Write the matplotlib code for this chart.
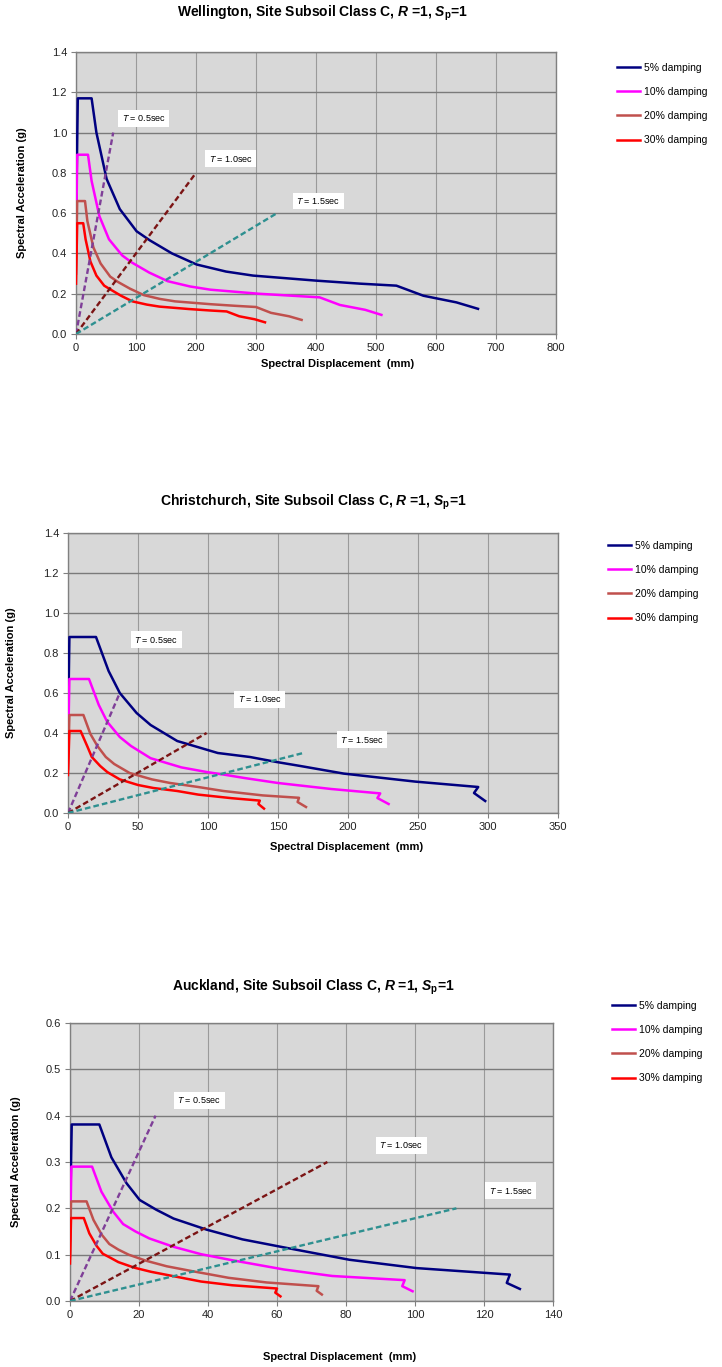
import numpy as np
import matplotlib.pyplot as plt
from matplotlib.lines import Line2D

plt.rcParams['font.family'] = ['Liberation Sans', 'DejaVu Sans']
plt.rcParams['mathtext.fontset'] = 'custom'
plt.rcParams['mathtext.rm'] = 'Liberation Sans'
plt.rcParams['mathtext.it'] = 'Liberation Sans:italic'
plt.rcParams['mathtext.bf'] = 'Liberation Sans:bold:italic'
plt.rcParams['mathtext.sf'] = 'Liberation Sans:bold'

damping = ['5% damping', '10% damping', '20% damping', '30% damping']
periods = ['0.5', '1.0', '1.5']

# Wellington
wel_sd_5 = [0, 3, 26, 34, 51, 73, 101, 123, 160, 201, 250, 295, 400, 473, 534, 579, 634, 670]
wel_sa_5 = [0.53, 1.17, 1.17, 1.00, 0.77, 0.62, 0.51, 0.465, 0.40, 0.345, 0.31, 0.29, 0.265, 0.25, 0.24, 0.19, 0.157, 0.125]
wel_sd_10 = [0, 2, 20, 26, 39, 55, 77, 93, 122, 153, 190, 224, 304, 360, 406, 440, 482, 509]
wel_sa_10 = [0.40, 0.89, 0.89, 0.76, 0.585, 0.47, 0.39, 0.355, 0.305, 0.262, 0.236, 0.22, 0.20, 0.19, 0.182, 0.144, 0.12, 0.095]
wel_sd_20 = [0, 2, 15, 19, 29, 41, 57, 69, 90, 113, 140, 165, 224, 265, 300, 325, 355, 376]
wel_sa_20 = [0.30, 0.66, 0.66, 0.56, 0.43, 0.35, 0.285, 0.26, 0.225, 0.193, 0.174, 0.162, 0.148, 0.14, 0.134, 0.105, 0.088, 0.07]
wel_sd_30 = [0, 2, 12, 16, 24, 34, 47, 58, 75, 94, 118, 139, 188, 222, 251, 272, 298, 315]
wel_sa_30 = [0.25, 0.55, 0.55, 0.47, 0.36, 0.29, 0.24, 0.22, 0.19, 0.162, 0.146, 0.136, 0.124, 0.117, 0.112, 0.088, 0.073, 0.058]
wel_period_sd = [62, 200, 335]
wel_period_sa = [1.0, 0.8, 0.6]
wel_tag_sd = [113, 258, 404]
wel_tag_sa = [1.07, 0.87, 0.66]

# Christchurch
chc_sd_5 = [0, 1, 20, 29, 37, 49, 59, 78, 107, 130, 149, 166, 197, 248, 293, 290, 298]
chc_sa_5 = [0.40, 0.88, 0.88, 0.71, 0.60, 0.50, 0.44, 0.36, 0.30, 0.28, 0.255, 0.235, 0.197, 0.157, 0.13, 0.10, 0.06]
chc_sd_10 = [0, 1, 15, 22, 28, 37, 45, 59, 81, 99, 113, 126, 150, 188, 223, 221, 229]
chc_sa_10 = [0.30, 0.67, 0.67, 0.54, 0.456, 0.38, 0.335, 0.274, 0.228, 0.205, 0.19, 0.175, 0.15, 0.12, 0.098, 0.075, 0.045]
chc_sd_20 = [0, 1, 11, 16, 21, 27, 33, 44, 60, 73, 83, 93, 111, 139, 165, 164, 170]
chc_sa_20 = [0.22, 0.49, 0.49, 0.395, 0.335, 0.28, 0.245, 0.20, 0.168, 0.15, 0.14, 0.13, 0.11, 0.088, 0.076, 0.055, 0.03]
chc_sd_30 = [0, 1, 9, 14, 17, 23, 28, 37, 50, 61, 70, 78, 93, 117, 137, 136, 140]
chc_sa_30 = [0.19, 0.41, 0.41, 0.33, 0.28, 0.235, 0.205, 0.168, 0.14, 0.125, 0.117, 0.11, 0.092, 0.074, 0.062, 0.045, 0.022]
chc_period_sd = [37, 99, 168]
chc_period_sa = [0.6, 0.4, 0.3]
chc_tag_sd = [63, 137, 210]
chc_tag_sa = [0.866, 0.568, 0.367]

# Auckland
akl_sd_5 = [0, 0.5, 8.5, 12, 16.4, 20.2, 25, 30, 39.6, 50, 61.8, 81, 100.5, 127.5, 126.6, 130.4]
akl_sa_5 = [0.173, 0.381, 0.381, 0.31, 0.254, 0.218, 0.197, 0.178, 0.154, 0.133, 0.116, 0.089, 0.071, 0.057, 0.039, 0.026]
akl_sd_10 = [0, 0.4, 6.4, 9.1, 12.5, 15.4, 19, 23, 30, 38, 47, 62, 76, 97, 96.3, 99.3]
akl_sa_10 = [0.13, 0.29, 0.29, 0.236, 0.193, 0.166, 0.15, 0.135, 0.117, 0.101, 0.088, 0.068, 0.054, 0.045, 0.032, 0.021]
akl_sd_20 = [0, 0.3, 4.8, 6.8, 9.2, 11.4, 14, 17, 22, 28, 35, 46, 57, 72, 71.5, 73]
akl_sa_20 = [0.097, 0.215, 0.215, 0.175, 0.143, 0.123, 0.111, 0.10, 0.087, 0.075, 0.065, 0.05, 0.04, 0.032, 0.022, 0.014]
akl_sd_30 = [0, 0.3, 4, 5.6, 7.7, 9.5, 11.8, 14, 18.6, 23.5, 29, 38, 47, 60, 59.5, 61]
akl_sa_30 = [0.081, 0.179, 0.179, 0.146, 0.119, 0.102, 0.093, 0.084, 0.072, 0.063, 0.055, 0.042, 0.034, 0.027, 0.018, 0.01]
akl_period_sd = [24.8, 74.6, 112]
akl_period_sa = [0.4, 0.3, 0.2]
akl_tag_sd = [37.5, 96, 127.8]
akl_tag_sa = [0.433, 0.336, 0.238]

curve_colors = ['#000080', '#FF00FF', '#C0504D', '#FF0000']
period_colors = ['#7F3F98', '#7B1414', '#2E9090']

W, H = 722, 1367
fig = plt.figure(figsize=(W / 100, H / 100), dpi=100)


def px_axes(left, top, right, bottom):
    return fig.add_axes([left / W, 1 - bottom / H, (right - left) / W, (bottom - top) / H])


def panel(ax, curves, psd, psa, tsd, tsa, xmax, xstep, ymax, ystep):
    ax.set_facecolor('#D8D8D8')
    for (sd, sa), c in zip(curves, curve_colors):
        ax.plot(sd, sa, color=c, lw=1.8, zorder=3)
    for sd, sa, c in zip(psd, psa, period_colors):
        ax.plot([0, sd], [0, sa], color=c, lw=1.7, ls=(0, (2.4, 1.3)), zorder=4)
    for sd, sa, p in zip(tsd, tsa, periods):
        ax.text(sd, sa, '$T$ = ' + p + 'sec', fontsize=6.5, ha='center', va='center', zorder=5,
                bbox=dict(facecolor='white', edgecolor='none', pad=2.5))
    ax.set_xlim(0, xmax)
    ax.set_ylim(0, ymax)
    ax.set_xticks(np.arange(0, xmax + xstep / 2, xstep))
    ax.set_yticks(np.arange(0, ymax + ystep / 2, ystep))
    ax.yaxis.set_major_formatter(plt.FormatStrFormatter('%.1f'))
    ax.grid(axis='y', color='#7A7A7A', lw=1.0)
    ax.grid(axis='x', color='#9A9A9A', lw=0.8)
    ax.set_axisbelow(True)
    for s in ax.spines.values():
        s.set_color('#808080')
        s.set_linewidth(1.0)
    ax.tick_params(labelsize=8, length=3.5, color='#808080', labelcolor='#222222', pad=3)


def legend(ax, x, y):
    handles = [Line2D([], [], color=c, lw=1.8) for c in curve_colors]
    ax.legend(handles, damping, loc='upper left', bbox_to_anchor=(x / W, 1 - y / H),
              bbox_transform=fig.transFigure, frameon=False, fontsize=7.5,
              handlelength=2.2, handletextpad=0.4, labelspacing=1.35,
              borderpad=0, borderaxespad=0)


sp = r'$\mathbf{S}_{\mathsf{p}}$=1'

ax1 = px_axes(76, 52, 556, 334)
panel(ax1, [(wel_sd_5, wel_sa_5), (wel_sd_10, wel_sa_10), (wel_sd_20, wel_sa_20), (wel_sd_30, wel_sa_30)],
      wel_period_sd, wel_period_sa, wel_tag_sd, wel_tag_sa, 800, 100, 1.4, 0.2)
legend(ax1, 617, 63)
fig.text(323 / W, 1 - 13 / H, r'Wellington, Site Subsoil Class C, $\mathbf{R}$ =1, ' + sp,
         ha='center', va='center', fontsize=10, fontweight='bold')
fig.text(22 / W, 1 - 193 / H, 'Spectral Acceleration (g)', rotation=90, ha='center', va='center',
         fontsize=8, fontweight='bold')
fig.text(338 / W, 1 - 364 / H, 'Spectral Displacement  (mm)', ha='center', va='center',
         fontsize=8, fontweight='bold')

ax2 = px_axes(68, 533, 558, 813)
panel(ax2, [(chc_sd_5, chc_sa_5), (chc_sd_10, chc_sa_10), (chc_sd_20, chc_sa_20), (chc_sd_30, chc_sa_30)],
      chc_period_sd, chc_period_sa, chc_tag_sd, chc_tag_sa, 350, 50, 1.4, 0.2)
legend(ax2, 608, 541)
fig.text(313 / W, 1 - 502 / H, r'Christchurch, Site Subsoil Class C, $\mathbf{R}$ =1, ' + sp,
         ha='center', va='center', fontsize=10, fontweight='bold')
fig.text(11 / W, 1 - 673 / H, 'Spectral Acceleration (g)', rotation=90, ha='center', va='center',
         fontsize=8, fontweight='bold')
fig.text(347 / W, 1 - 847 / H, 'Spectral Displacement  (mm)', ha='center', va='center',
         fontsize=8, fontweight='bold')

ax3 = px_axes(70, 1023, 553, 1301)
panel(ax3, [(akl_sd_5, akl_sa_5), (akl_sd_10, akl_sa_10), (akl_sd_20, akl_sa_20), (akl_sd_30, akl_sa_30)],
      akl_period_sd, akl_period_sa, akl_tag_sd, akl_tag_sa, 140, 20, 0.6, 0.1)
legend(ax3, 612, 1001)
fig.text(313 / W, 1 - 987 / H, r'Auckland, Site Subsoil Class C, $\mathbf{R}$ =1, ' + sp,
         ha='center', va='center', fontsize=10, fontweight='bold')
fig.text(16 / W, 1 - 1162 / H, 'Spectral Acceleration (g)', rotation=90, ha='center', va='center',
         fontsize=8, fontweight='bold')
fig.text(340 / W, 1 - 1357 / H, 'Spectral Displacement  (mm)', ha='center', va='center',
         fontsize=8, fontweight='bold')

fig.savefig('out.png', dpi=100)
